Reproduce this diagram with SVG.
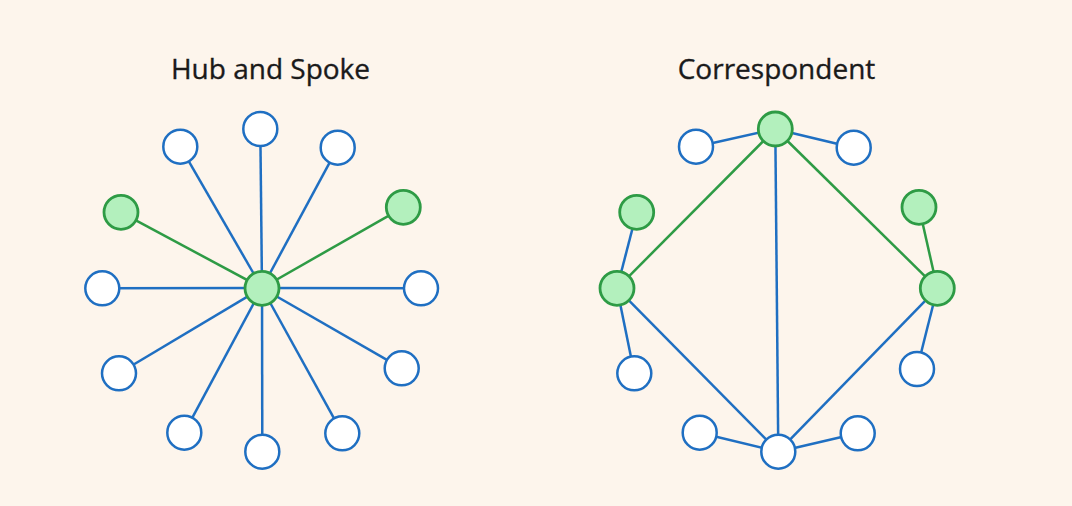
<svg xmlns="http://www.w3.org/2000/svg" width="1072" height="506" viewBox="0 0 1072 506">
<style>
.title{font-family:"Open Sans","Liberation Sans",sans-serif;font-size:28px;font-weight:500;fill:#1a1a1a;stroke:#1a1a1a;stroke-width:0.35;text-anchor:middle}
.b{fill:#ffffff;stroke:#1f6fc2;stroke-width:2.5}
.g{fill:#b3f0bd;stroke:#2e9b45;stroke-width:2.8}
.lb{stroke:#1f6fc2;stroke-width:2.5;fill:none}
.lg{stroke:#2e9b45;stroke-width:2.5;fill:none}
</style>
<rect width="1072" height="506" fill="#fdf5ec"/>
<text class="title" x="270.5" y="79">Hub and Spoke</text>
<text class="title" x="776.5" y="79">Correspondent</text>
<g id="connectors">
<g id="hub-lines">
<line class="lb" x1="262" y1="288" x2="260.3" y2="129"/>
<line class="lb" x1="262" y1="288" x2="180.3" y2="146.7"/>
<line class="lb" x1="262" y1="288" x2="337.7" y2="147.7"/>
<line class="lg" x1="262" y1="288" x2="121" y2="212.3"/>
<line class="lg" x1="262" y1="288" x2="403.3" y2="207.3"/>
<line class="lb" x1="262" y1="288" x2="102.3" y2="288.3"/>
<line class="lb" x1="262" y1="288" x2="421" y2="288.3"/>
<line class="lb" x1="262" y1="288" x2="119" y2="373.3"/>
<line class="lb" x1="262" y1="288" x2="401.7" y2="368.3"/>
<line class="lb" x1="262" y1="288" x2="184.3" y2="432.7"/>
<line class="lb" x1="262" y1="288" x2="262.3" y2="451.7"/>
<line class="lb" x1="262" y1="288" x2="342.3" y2="433.3"/>
</g>
<g id="corr-lines">
<line class="lb" x1="775.3" y1="129" x2="696" y2="146.7"/>
<line class="lb" x1="775.3" y1="129" x2="853.7" y2="147.7"/>
<line class="lg" x1="775.3" y1="129" x2="617" y2="288.3"/>
<line class="lg" x1="775.3" y1="129" x2="937.3" y2="288.3"/>
<line class="lb" x1="775.3" y1="129" x2="778.3" y2="451.7"/>
<line class="lb" x1="617" y1="288.3" x2="636.7" y2="212.3"/>
<line class="lg" x1="937.3" y1="288.3" x2="919" y2="207.3"/>
<line class="lb" x1="617" y1="288.3" x2="634.3" y2="373.3"/>
<line class="lb" x1="937.3" y1="288.3" x2="917" y2="369"/>
<line class="lb" x1="617" y1="288.3" x2="778.3" y2="451.7"/>
<line class="lb" x1="937.3" y1="288.3" x2="778.3" y2="451.7"/>
<line class="lb" x1="778.3" y1="451.7" x2="699.7" y2="432.7"/>
<line class="lb" x1="778.3" y1="451.7" x2="857.7" y2="433.3"/>
</g>
</g>
<g id="hub"><circle class="g" cx="262" cy="288.3" r="17"/></g>
<g id="h-top"><circle class="b" cx="260.3" cy="129" r="17"/></g>
<g id="h-tl"><circle class="b" cx="180.3" cy="146.7" r="17"/></g>
<g id="h-tr"><circle class="b" cx="337.7" cy="147.7" r="17"/></g>
<g id="h-lg"><circle class="g" cx="121" cy="212.3" r="17"/></g>
<g id="h-rg"><circle class="g" cx="403.3" cy="207.3" r="17"/></g>
<g id="h-l"><circle class="b" cx="102.3" cy="288.3" r="17"/></g>
<g id="h-r"><circle class="b" cx="421" cy="288.3" r="17"/></g>
<g id="h-ll"><circle class="b" cx="119" cy="373.3" r="17"/></g>
<g id="h-lr"><circle class="b" cx="401.7" cy="368.3" r="17"/></g>
<g id="h-bl"><circle class="b" cx="184.3" cy="432.7" r="17"/></g>
<g id="h-b"><circle class="b" cx="262.3" cy="451.7" r="17"/></g>
<g id="h-br"><circle class="b" cx="342.3" cy="433.3" r="17"/></g>
<g id="c-top"><circle class="g" cx="775.3" cy="129" r="17"/></g>
<g id="c-tl"><circle class="b" cx="696" cy="146.7" r="17"/></g>
<g id="c-tr"><circle class="b" cx="853.7" cy="147.7" r="17"/></g>
<g id="c-lg"><circle class="g" cx="636.7" cy="212.3" r="17"/></g>
<g id="c-l"><circle class="g" cx="617" cy="288.3" r="17"/></g>
<g id="c-rg"><circle class="g" cx="919" cy="207.3" r="17"/></g>
<g id="c-r"><circle class="g" cx="937.3" cy="288.3" r="17"/></g>
<g id="c-ll"><circle class="b" cx="634.3" cy="373.3" r="17"/></g>
<g id="c-lr"><circle class="b" cx="917" cy="369" r="17"/></g>
<g id="c-bl"><circle class="b" cx="699.7" cy="432.7" r="17"/></g>
<g id="c-b"><circle class="b" cx="778.3" cy="451.7" r="17"/></g>
<g id="c-br"><circle class="b" cx="857.7" cy="433.3" r="17"/></g>
</svg>
